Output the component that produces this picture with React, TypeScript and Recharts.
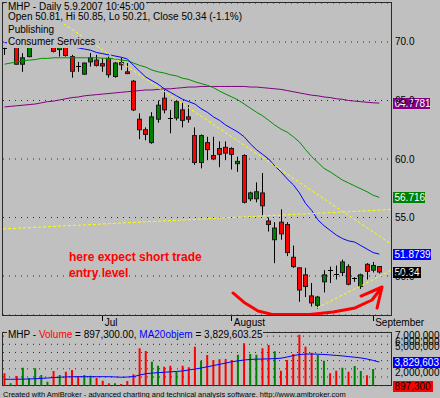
import React from 'react';
import { ComposedChart, Bar, Line, XAxis, YAxis, CartesianGrid, ReferenceLine, Cell } from 'recharts';

const FONT = "'Liberation Sans', Arial, sans-serif";
const BG = '#c0c0c0';
const RED = '#ff0000';
const GREEN = '#008000';

// Daily bars, 8 Jun 2007 .. 5 Sep 2007 (index 0..61)
const open = [69.5, 69.8, 69.9, 68.1, 68.75, 69.8, 70.3, 70.6, 70.4, 69.35,
  69.9, 68.75, 67.92, 67.25, 68.3, 68.45, 68.15, 68.6, 67.05, 68.25,
  67.45, 66.65, 63.4, 62.5, 61.4, 63.4, 65.2, 63.52, 63.5, 64.2,
  63.6, 62.0, 59.7, 61.4, 60.3, 60.9, 61.0, 60.9, 59.6, 60.3,
  56.6, 56.6, 57.1, 54.7, 53.1, 54.6, 54.4, 51.6, 50.7, 50.1,
  48.3, 47.5, 49.5, 50.47, 50.12, 50.3, 50.8, 49.73, 49.1, 51.0,
  50.5, 50.81];
const high = [69.5, 70.6, 70.1, 69.05, 69.9, 70.7, 71.0, 71.3, 71.45, 70.2,
  70.1, 68.9, 68.3, 68.25, 69.05, 68.9, 68.6, 68.75, 68.3, 68.65,
  68.2, 66.75, 63.9, 62.7, 64.0, 65.0, 65.9, 64.2, 65.1, 64.8,
  64.6, 62.7, 62.1, 61.9, 61.9, 61.5, 61.5, 61.0, 60.2, 60.4,
  57.2, 58.0, 58.8, 55.0, 54.6, 55.7, 54.6, 52.6, 50.7, 50.7,
  49.4, 48.3, 50.5, 50.8, 50.9, 51.4, 51.0, 49.9, 50.2, 51.1,
  51.2, 50.85];
const low = [68.9, 69.7, 68.05, 67.45, 68.7, 69.7, 70.0, 70.3, 69.1, 68.75,
  68.75, 66.95, 67.45, 67.2, 67.9, 67.9, 67.45, 66.95, 66.95, 67.6,
  67.25, 64.1, 61.7, 61.6, 61.3, 63.1, 63.9, 62.2, 63.3, 62.7,
  63.1, 59.5, 59.2, 59.9, 59.9, 59.3, 59.9, 59.1, 58.9, 56.2,
  56.4, 56.3, 55.2, 53.8, 51.1, 53.1, 51.7, 50.7, 47.8, 48.2,
  47.4, 47.2, 48.6, 49.4, 49.7, 50.0, 49.2, 49.5, 48.9, 49.7,
  50.3, 50.21];
const close = [69.48, 70.4, 68.1, 68.65, 69.7, 70.4, 70.8, 71.1, 69.2, 69.9,
  68.85, 67.5, 67.9, 68.2, 68.65, 68.0, 67.95, 67.2, 68.2, 68.05,
  67.3, 64.2, 62.5, 62.1, 63.6, 64.6, 64.2, 63.5, 64.9, 63.3,
  63.4, 59.7, 62.0, 60.8, 60.0, 60.4, 60.5, 60.4, 59.8, 56.3,
  57.1, 57.2, 56.0, 54.4, 54.1, 53.6, 52.0, 50.8, 48.8, 49.1,
  47.7, 48.2, 50.1, 50.45, 50.1, 51.2, 49.3, 49.75, 50.1, 50.4,
  50.9, 50.34];

// moving averages on price
const maBlue = [69.95, 69.9, 69.9, 69.85, 69.8, 69.8, 69.75, 69.7, 69.7, 69.65,
  69.6, 69.6, 69.5, 69.4, 69.3, 69.1, 69.0, 68.9, 68.8, 68.7,
  68.55, 68.0, 67.5, 67.0, 66.7, 66.4, 66.0, 65.7, 65.4, 65.1,
  64.9, 64.7, 64.3, 64.0, 63.6, 63.3, 62.9, 62.6, 62.3, 61.9,
  61.3, 60.8, 60.4, 60.0, 59.4, 58.9, 58.3, 57.8, 57.1, 56.2,
  55.6, 54.8, 54.3, 53.9, 53.5, 53.2, 53.0, 52.9, 52.6, 52.3,
  52.0, 51.87];
const maGreen = [68.1, 68.2, 68.3, 68.4, 68.45, 68.5, 68.6, 68.6, 68.65, 68.65,
  68.65, 68.65, 68.65, 68.65, 68.65, 68.65, 68.62, 68.6, 68.55, 68.45,
  68.4, 68.2, 68.0, 67.85, 67.6, 67.45, 67.35, 67.2, 67.1, 66.9,
  66.8, 66.6, 66.45, 66.3, 66.1, 65.8, 65.55, 65.3, 65.05, 64.7,
  64.35, 64.0, 63.7, 63.3, 62.9, 62.55, 62.3, 61.9, 61.45, 60.8,
  60.2, 59.7, 59.2, 58.9, 58.55, 58.2, 57.95, 57.7, 57.45, 57.2,
  56.9, 56.72];
const maPurple = [64.45, 64.5, 64.55, 64.6, 64.65, 64.7, 64.8, 64.9, 64.95, 65.05,
  65.15, 65.25, 65.3, 65.4, 65.45, 65.5, 65.55, 65.6, 65.65, 65.7,
  65.75, 65.8, 65.85, 65.9, 65.9, 65.95, 66.0, 66.0, 66.05, 66.1,
  66.15, 66.15, 66.2, 66.2, 66.2, 66.2, 66.2, 66.2, 66.2, 66.2,
  66.15, 66.15, 66.1, 66.05, 66.0, 65.95, 65.85, 65.75, 65.65, 65.55,
  65.45, 65.4, 65.3, 65.25, 65.15, 65.1, 65.0, 64.95, 64.9, 64.85,
  64.8, 64.78];

// volume in millions of shares and its 20-day average
const volume = [2.45, 1.23, 2.12, 3.14, 1.84, 3.06, 2.24, 1.43, 2.73, 2.24,
  2.65, 2.86, 2.12, 2.24, 2.16, 1.92, 1.55, 1.23, 1.23, 1.14,
  1.51, 2.33, 5.51, 5.18, 3.87, 3.38, 3.26, 3.38, 2.65, 3.38,
  3.18, 5.71, 3.99, 4.69, 4.08, 4.16, 4.2, 4.08, 4.73, 6.12,
  4.81, 4.73, 5.51, 5.91, 5.14, 2.77, 4.08, 4.81, 7.17, 5.71,
  4.97, 4.69, 3.99, 2.45, 2.77, 3.14, 2.65, 3.35, 2.73, 2.21,
  2.98, 0.8973];
const volMA = [1.72, 1.72, 1.73, 1.74, 1.76, 1.79, 1.83, 1.88, 1.93, 1.97,
  2.01, 2.03, 2.04, 2.04, 2.04, 2.04, 2.04, 2.03, 2.01, 1.97,
  2.0, 2.05, 2.24, 2.4, 2.48, 2.53, 2.58, 2.63, 2.68, 2.74,
  2.86, 2.97, 3.1, 3.25, 3.4, 3.55, 3.7, 3.87, 3.97, 4.08,
  4.15, 4.18, 4.2, 4.22, 4.25, 4.3, 4.45, 4.62, 4.75, 4.8,
  4.81, 4.79, 4.76, 4.7, 4.64, 4.58, 4.5, 4.42, 4.33, 4.2,
  4.03, 3.83];

const monthTicks = [16, 37, 60];
const monthLabels = ['Jul', 'August', 'September'];
const priceTicks = [50, 55, 60, 65, 70];
const volTicks = [2, 3, 4, 5, 6, 7];

// hand-drawn trend lines (bar index, price)
const trendA = [{ x: 8.22, y: 72.05 }, { x: 62.9, y: 52.74 }];
const trendB = [{ x: -0.24, y: 54.02 }, { x: 62.9, y: 55.68 }];
const trendC = [{ x: 50.86, y: 47.27 }, { x: 62.9, y: 50.47 }];

// hand-drawn red arrow (bar index, price)
const arrowPts = [
  { i: 37.19, p: 48.55 }, { i: 39.14, p: 47.69 }, { i: 41.26, p: 47.01 },
  { i: 43.54, p: 46.72 }, { i: 46.47, p: 46.72 }, { i: 49.72, p: 46.72 },
  { i: 53.47, p: 46.92 }, { i: 57.05, p: 47.27 }, { i: 59.81, p: 47.95 },
  { i: 61.44, p: 49.06 }, { i: 58.02, p: 48.29 }, { i: 61.44, p: 49.06 },
  { i: 60.63, p: 47.26 },
];

const priceRows = open.map((o, i) => ({
  i, open: o, high: high[i], low: low[i], close: close[i],
  range: [low[i], high[i]],
  blue: maBlue[i], green: maGreen[i], purple: maPurple[i],
}));
const volRows = volume.map((v, i) => ({ i, vol: v, ma: volMA[i] }));

const X_DOMAIN: [number, number] = [-0.244, 62.9];

function Candle(props: any) {
  const { x, y, width, height, payload } = props;
  if (x == null || y == null || !payload) return null;
  const top = Math.min(y, y + height);
  const h = Math.abs(height);
  const { open: o, close: c, high: hi, low: lo } = payload;
  const k = h / (hi - lo);
  const cx = Math.floor(x + width / 2) + 0.5;
  const yo = top + (hi - o) * k;
  const yc = top + (hi - c) * k;
  const bTop = Math.min(yo, yc);
  const bBot = Math.max(yo, yc);
  const up = c > o;
  const flat = bBot - bTop < 1.2;
  return (
    <g>
      <line x1={cx} x2={cx} y1={top} y2={top + h} stroke="#000" strokeWidth={1} />
      {flat ? (
        <line x1={cx - 2.5} x2={cx + 2.5} y1={Math.floor(yc) + 0.5} y2={Math.floor(yc) + 0.5} stroke="#000" strokeWidth={1} />
      ) : (
        <rect x={cx - 2} y={bTop} width={4} height={bBot - bTop} fill={up ? GREEN : RED} stroke="#1a1a1a" strokeWidth={1} />
      )}
    </g>
  );
}

function PriceTick(props: any) {
  const { x, y, payload } = props;
  return (
    <text x={x + 2} y={y + 3.5} fontSize={10} fontFamily={FONT} fill="#000">
      {Number(payload.value).toFixed(1)}
    </text>
  );
}

function MonthTick(props: any) {
  const { x, y, payload } = props;
  const idx = monthTicks.indexOf(payload.value);
  const lx = Math.floor(x) + 0.5;
  return (
    <g>
      <line x1={lx} x2={lx} y1={y + 1} y2={y + 6} stroke="#000" strokeWidth={1} />
      <text x={x + 2} y={y + 11} fontSize={10} fontFamily={FONT} fill="#000">{monthLabels[idx]}</text>
    </g>
  );
}

const volLabelShift: Record<number, number> = { 7: -0.6, 6: -3.3, 5: -6.4, 2: -5 };

function VolTick(props: any) {
  const { x, y, payload } = props;
  const v = payload.value as number;
  if (!(v in volLabelShift)) return null;
  return (
    <text x={x + 2} y={y + 3.5 + volLabelShift[v]} fontSize={10} fontFamily={FONT} fill="#000">
      {(v * 1000000).toLocaleString('en-US')}
    </text>
  );
}

function ValueBox(props: any) {
  const { viewBox, text, bg, fg, w } = props;
  if (!viewBox) return null;
  const x0 = viewBox.x + viewBox.width + 2;
  const top = Math.round(viewBox.y - 5.5);
  return (
    <g>
      <rect x={x0} y={top} width={w} height={11} fill={bg} />
      <text x={x0 + 1.5} y={top + 9} fontSize={10} fontFamily={FONT} fill={fg}>{text}</text>
    </g>
  );
}

const textLine: React.CSSProperties = {
  position: 'absolute', fontFamily: FONT, fontSize: 10, color: '#000',
  background: BG, whiteSpace: 'nowrap', padding: '0 1px',
};

export default function App() {
  return (
    <div style={{ position: 'fixed', left: 0, top: 0, width: 440, height: 398, background: BG, overflow: 'hidden' }}>
      {/* panel frames */}
      <div style={{ position: 'absolute', left: 2, top: 2, width: 390, height: 314, border: '1px solid #2a2a2a', boxSizing: 'border-box' }} />
      <div style={{ position: 'absolute', left: 2, top: 332, width: 390, height: 54, border: '1px solid #2a2a2a', boxSizing: 'border-box' }} />

      {/* price panel */}
      <div style={{ position: 'absolute', left: 0, top: 0 }}>
        <ComposedChart width={440} height={335} data={priceRows} margin={{ top: 3, right: 0, bottom: 0, left: 3 }}>
          <CartesianGrid vertical={false} stroke="#2a2a2a" strokeDasharray="1 5" />
          <XAxis type="number" dataKey="i" domain={X_DOMAIN} allowDataOverflow ticks={monthTicks} interval={0}
            height={20} axisLine={false} tickLine={false} tickSize={0} tickMargin={0} tick={<MonthTick />} />
          <YAxis orientation="right" type="number" domain={[46.667, 73.333]} allowDataOverflow ticks={priceTicks}
            interval={0} width={49} axisLine={false} tickLine={false} tickSize={0} tick={<PriceTick />} />
          <Line dataKey="purple" stroke="#800080" strokeWidth={1} dot={false} isAnimationActive={false} />
          <Line dataKey="green" stroke="#009000" strokeWidth={1} dot={false} isAnimationActive={false} />
          <Line dataKey="blue" stroke="#0000ff" strokeWidth={1} dot={false} isAnimationActive={false} />
          <Bar dataKey="range" barSize={4} shape={<Candle />} isAnimationActive={false} />
          <ReferenceLine segment={trendA} stroke="#ffff00" strokeDasharray="3 2" ifOverflow="hidden" />
          <ReferenceLine segment={trendB} stroke="#ffff00" strokeDasharray="3 2" ifOverflow="hidden" />
          <ReferenceLine segment={trendC} stroke="#ffff00" strokeDasharray="3 2" ifOverflow="hidden" />
          <Line data={arrowPts} dataKey="p" stroke={RED} strokeWidth={3} dot={false} strokeLinejoin="round"
            strokeLinecap="round" isAnimationActive={false} />
          <ReferenceLine y={maPurple[maPurple.length - 1]} stroke="none"
            label={<ValueBox text="64.7781" bg="#800080" fg="#ffffff" w={37} />} />
          <ReferenceLine y={maGreen[maGreen.length - 1]} stroke="none"
            label={<ValueBox text="56.716" bg="#008000" fg="#ffffff" w={32} />} />
          <ReferenceLine y={maBlue[maBlue.length - 1]} stroke="none"
            label={<ValueBox text="51.8739" bg="#0000ff" fg="#ffffff" w={38} />} />
          <ReferenceLine y={close[close.length - 1]} stroke="none"
            label={<ValueBox text="50.34" bg="#000000" fg="#ffffff" w={28} />} />
        </ComposedChart>
      </div>

      {/* volume panel */}
      <div style={{ position: 'absolute', left: 0, top: 320 }}>
        <ComposedChart width={440} height={78} data={volRows} margin={{ top: 12.3, right: 0, bottom: 12.3, left: 3 }}>
          <CartesianGrid vertical={false} stroke="#2a2a2a" strokeDasharray="1 5" />
          <XAxis type="number" dataKey="i" domain={X_DOMAIN} allowDataOverflow hide />
          <YAxis orientation="right" type="number" domain={[0.936, 7.468]} allowDataOverflow ticks={volTicks}
            interval={0} width={49} axisLine={false} tickLine={false} tickSize={0} tick={<VolTick />} />
          <Bar dataKey="vol" barSize={2} isAnimationActive={false}>
            {volRows.map((r, i) => (
              <Cell key={i} fill={close[i] > open[i] ? GREEN : RED} />
            ))}
          </Bar>
          <Line dataKey="ma" stroke="#0000ff" strokeWidth={1} dot={false} isAnimationActive={false} />
          <ReferenceLine y={volMA[volMA.length - 1]} stroke="none"
            label={<ValueBox text="3,829,603" bg="#0000ff" fg="#ffffff" w={50} />} />
          <ReferenceLine y={volume[volume.length - 1]} stroke="none" ifOverflow="visible"
            label={<ValueBox text="897,300" bg="#ff0000" fg="#000000" w={40} />} />
        </ComposedChart>
      </div>

      {/* titles */}
      <div style={{ ...textLine, left: 7, top: 0.5, lineHeight: '11px' }}>MHP - Daily 5.9.2007 10:45:00</div>
      <div style={{ ...textLine, left: 7, top: 11, lineHeight: '12.5px' }}>Open 50.81, Hi 50.85, Lo 50.21, Close 50.34 (-1.1%)</div>
      <div style={{ ...textLine, left: 7, top: 23.5, lineHeight: '12.5px' }}>Publishing</div>
      <div style={{ ...textLine, left: 7, top: 36, lineHeight: '11.5px' }}>Consumer Services</div>

      <div style={{ ...textLine, left: 7, top: 329, lineHeight: '11px' }}>
        MHP - <span style={{ color: RED }}>Volume</span> = 897,300.00, <span style={{ color: '#0000ff' }}>MA20objem</span> = 3,829,603.25
      </div>

      {/* annotation */}
      <div style={{ position: 'absolute', left: 69, top: 250, fontFamily: FONT, fontSize: 12, fontWeight: 'bold', color: RED, lineHeight: '15.5px', whiteSpace: 'nowrap' }}>
        here expect short trade<br />entry level
      </div>

      {/* credit */}
      <div style={{ position: 'absolute', left: 3, top: 390, fontFamily: FONT, fontSize: 7.5, lineHeight: '9px', color: '#000', whiteSpace: 'nowrap' }}>
        Created with AmiBroker - advanced charting and technical analysis software. http://www.amibroker.com
      </div>
    </div>
  );
}
